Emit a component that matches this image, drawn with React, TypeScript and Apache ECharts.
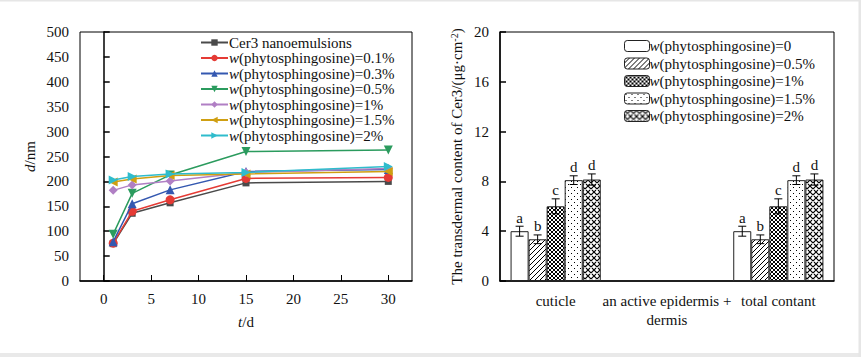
import React, { useEffect, useRef } from 'react';
import * as echarts from 'echarts';

// ---------- Left chart data ----------
const days = [1, 3, 7, 15, 30];
const xTickValues = [0, 5, 10, 15, 20, 25, 30];
const lineNames = [
  'Cer3 nanoemulsions',
  'w(phytosphingosine)=0.1%',
  'w(phytosphingosine)=0.3%',
  'w(phytosphingosine)=0.5%',
  'w(phytosphingosine)=1%',
  'w(phytosphingosine)=1.5%',
  'w(phytosphingosine)=2%',
];
const cer3 = [75, 136, 157, 197, 200];
const w01 = [76, 140, 163, 206, 208];
const w03 = [79, 155, 183, 220, 224];
const w05 = [94, 176, 213, 260, 263];
const w1 = [182, 193, 201, 218, 226];
const w15 = [199, 205, 212, 215, 220];
const w2 = [203, 210, 215, 218, 230];
const lineValues = [cer3, w01, w03, w05, w1, w15, w2];

// ---------- Right chart data ----------
const barCategories = ['cuticle', 'an active epidermis +\ndermis', 'total contant'];
const barNames = [
  'w(phytosphingosine)=0',
  'w(phytosphingosine)=0.5%',
  'w(phytosphingosine)=1%',
  'w(phytosphingosine)=1.5%',
  'w(phytosphingosine)=2%',
];
const bar0 = [4.0, null, 4.0];
const bar05 = [3.35, null, 3.35];
const bar1 = [6.0, null, 6.0];
const bar15 = [8.1, null, 8.1];
const bar2 = [8.15, null, 8.15];
const barValues = [bar0, bar05, bar1, bar15, bar2];
const barErrors = [0.4, 0.35, 0.6, 0.35, 0.45];
const barLetters = ['a', 'b', 'c', 'd', 'd'];

const FONT = 'Liberation Serif';
const TXT = '#111';
const ZW = '\u200b';

const lineColors = ['#4a4a4a', '#e53b35', '#3458b0', '#2b9b5e', '#b07fc4', '#cf9f12', '#2fbccc'];
const lineSymbols = [
  'rect',
  'circle',
  'triangle',
  'path://M0,0L10,0L5,9Z',
  'diamond',
  'path://M10,0L10,10L0,5Z',
  'path://M0,0L0,10L10,5Z',
];
const lineSymbolSizes = [7, 9, 9, 9, 9, 9, 9];

function makePattern(kind: string): HTMLCanvasElement {
  const c = document.createElement('canvas');
  const s = kind === 'zig' ? 6 : kind === 'cross' ? 4 : kind === 'dots' ? 6 : 5;
  c.width = s;
  c.height = s;
  const g = c.getContext('2d')!;
  g.fillStyle = '#fff';
  g.fillRect(0, 0, s, s);
  g.strokeStyle = '#000';
  g.fillStyle = '#000';
  g.lineWidth = 1;
  const seg = (x1: number, y1: number, x2: number, y2: number) => {
    g.beginPath();
    g.moveTo(x1, y1);
    g.lineTo(x2, y2);
    g.stroke();
  };
  if (kind === 'hatch') {
    seg(-1, s + 1, s + 1, -1);
    seg(-1, 1, 1, -1);
    seg(s - 1, s + 1, s + 1, s - 1);
  } else if (kind === 'cross') {
    seg(-1, s + 1, s + 1, -1);
    seg(-1, -1, s + 1, s + 1);
    seg(-1, 1, 1, -1);
    seg(s - 1, s + 1, s + 1, s - 1);
    seg(-1, s - 1, 1, s + 1);
    seg(s - 1, -1, s + 1, 1);
  } else if (kind === 'dots') {
    g.fillRect(1, 1, 1, 1);
    g.fillRect(4, 4, 1, 1);
  } else if (kind === 'zig') {
    g.lineWidth = 1.1;
    // zigzag: short diagonals alternating direction
    seg(0, 0, 3, 3);
    seg(3, 3, 6, 0);
    seg(0, 6, 2, 4);
    seg(4, 4, 6, 6);
  }
  return c;
}

const legendFormatter = (raw: string) => {
  const name = raw.split(ZW).join('');
  return name.startsWith('w(') ? '{i|w}{n|' + name.slice(1) + '}' : '{n|' + name + '}';
};

export default function App() {
  const ref = useRef<HTMLDivElement>(null);
  useEffect(() => {
    if (!ref.current) return;
    const chart = echarts.init(ref.current, undefined, { renderer: 'svg' });

    const patterns = ['white', 'hatch', 'cross', 'dots', 'zig'].map((k) =>
      k === 'white' ? '#ffffff' : { image: makePattern(k), repeat: 'repeat' }
    );

    const CAT_GAP = 0.19;
    const barSeriesNames = barNames.map((n) => n + ZW);

    const lineSeries = lineNames.map((name, i) => ({
      type: 'line',
      name,
      xAxisIndex: 0,
      yAxisIndex: 0,
      data: days.map((d, j) => [d, lineValues[i][j]]),
      symbol: lineSymbols[i],
      symbolSize: lineSymbolSizes[i],
      itemStyle: { color: lineColors[i] },
      lineStyle: { color: lineColors[i], width: 1.5 },
      z: 2 + i,
    }));

    const barSeries = barSeriesNames.map((name, i) => ({
      type: 'bar',
      name,
      xAxisIndex: 1,
      yAxisIndex: 1,
      data: barValues[i],
      barGap: '0%',
      barCategoryGap: CAT_GAP * 100 + '%',
      itemStyle: { color: patterns[i], borderColor: '#222', borderWidth: 1 },
    }));

    const errData: number[][] = [];
    barValues.forEach((vals, si) => {
      vals.forEach((v, ci) => {
        if (v != null) errData.push([ci, v as number, barErrors[si], si]);
      });
    });

    const errSeries = {
      type: 'custom',
      xAxisIndex: 1,
      yAxisIndex: 1,
      data: errData,
      z: 10,
      silent: true,
      renderItem: (params: any, api: any) => {
        const cat = api.value(0);
        const val = api.value(1);
        const err = api.value(2);
        const si = api.value(3);
        const c = api.coord([cat, val]);
        const band = api.size([1, 0])[0];
        const groupW = band * (1 - CAT_GAP);
        const bw = groupW / 5;
        const x = c[0] - groupW / 2 + bw * (si + 0.5);
        const top = api.coord([cat, val + err])[1];
        const bot = api.coord([cat, val - err])[1];
        const cap = 4;
        const st = { stroke: '#000', lineWidth: 1 };
        return {
          type: 'group',
          children: [
            { type: 'line', shape: { x1: x, y1: top, x2: x, y2: bot }, style: st },
            { type: 'line', shape: { x1: x - cap, y1: top, x2: x + cap, y2: top }, style: st },
            { type: 'line', shape: { x1: x - cap, y1: bot, x2: x + cap, y2: bot }, style: st },
            {
              type: 'text',
              x,
              y: top - 1,
              style: {
                text: barLetters[si],
                fontFamily: FONT,
                fontSize: 15,
                fill: TXT,
                align: 'center',
                verticalAlign: 'bottom',
              },
            },
          ],
        };
      },
    };

    const axisText = { fontFamily: FONT, fontSize: 15, color: TXT };
    const legendRich = (lh: number) => ({
      i: { fontFamily: FONT, fontSize: 15, fontStyle: 'italic', color: TXT, lineHeight: lh },
      n: { fontFamily: FONT, fontSize: 15, color: TXT, lineHeight: lh },
    });

    chart.setOption({
      animation: false,
      backgroundColor: '#ffffff',
      textStyle: { fontFamily: FONT },
      graphic: [
        { type: 'rect', shape: { x: 0, y: 353, width: 861, height: 4 }, style: { fill: '#e9e9e9' }, silent: true },
        { type: 'rect', shape: { x: 0, y: 0, width: 861, height: 1.5 }, style: { fill: '#e6e6e6' }, silent: true },
        { type: 'rect', shape: { x: 858.5, y: 0, width: 2.5, height: 357 }, style: { fill: '#e6e6e6' }, silent: true },
      ],
      grid: [
        { left: 80, right: 861 - 412, top: 32, bottom: 357 - 281, show: true, borderColor: '#000', borderWidth: 1 },
        { left: 500, right: 861 - 834, top: 32, bottom: 357 - 281, show: true, borderColor: '#000', borderWidth: 1 },
      ],
      legend: [
        {
          data: lineNames,
          left: 195,
          top: 30,
          orient: 'vertical',
          itemWidth: 27,
          itemHeight: 8,
          itemGap: 0.5,
          formatter: legendFormatter,
          textStyle: {
            fontFamily: FONT,
            fontSize: 15,
            lineHeight: 15,
            color: TXT,
            padding: [0, 0, 0, -4],
            rich: legendRich(15),
          },
          selectedMode: false,
        },
        {
          data: barSeriesNames,
          left: 619,
          top: 33,
          orient: 'vertical',
          itemWidth: 25,
          itemHeight: 11,
          itemGap: 1.5,
          formatter: legendFormatter,
          itemStyle: { borderColor: '#222', borderWidth: 1 },
          textStyle: {
            fontFamily: FONT,
            fontSize: 15,
            lineHeight: 16,
            color: TXT,
            padding: [0, 0, 0, -5],
            rich: legendRich(16),
          },
          selectedMode: false,
        },
      ],
      xAxis: [
        {
          type: 'value',
          gridIndex: 0,
          min: -2.5,
          max: 32.5,
          name: '{i|t}{n|/d}',
          nameLocation: 'middle',
          nameGap: 33,
          nameTextStyle: {
            ...axisText,
            rich: { i: { ...axisText, fontStyle: 'italic' }, n: { ...axisText } },
          },
          axisLine: { show: true, lineStyle: { color: '#000', width: 1.5 } },
          axisTick: { show: true, inside: true, length: 6, customValues: xTickValues, lineStyle: { color: '#000' } },
          axisLabel: { ...axisText, margin: 10, customValues: xTickValues },
          splitLine: { show: false },
        },
        {
          type: 'category',
          gridIndex: 1,
          data: barCategories,
          axisLine: { show: true, lineStyle: { color: '#000', width: 1.5 } },
          axisTick: { show: false },
          axisLabel: { ...axisText, margin: 10, lineHeight: 19, interval: 0 },
          splitLine: { show: false },
        },
      ],
      yAxis: [
        {
          type: 'value',
          gridIndex: 0,
          min: 0,
          max: 500,
          interval: 50,
          name: '{i|d}{n|/nm}',
          nameLocation: 'middle',
          nameGap: 43,
          nameRotate: 90,
          nameTextStyle: {
            ...axisText,
            rich: { i: { ...axisText, fontStyle: 'italic' }, n: { ...axisText } },
          },
          axisLine: { show: true, lineStyle: { color: '#000', width: 1.5 } },
          axisTick: { show: true, inside: true, length: 6, lineStyle: { color: '#000', width: 1.5 } },
          axisLabel: { ...axisText, margin: 11 },
          splitLine: { show: false },
        },
        {
          type: 'value',
          gridIndex: 1,
          min: 0,
          max: 20,
          interval: 4,
          name: '{n|The transdermal content of Cer3/(μg·cm}{sup|-2}{n|)}',
          nameLocation: 'middle',
          nameGap: 36,
          nameRotate: 90,
          nameTextStyle: {
            ...axisText,
            rich: {
              n: { ...axisText },
              sup: { fontFamily: FONT, fontSize: 10, color: TXT, verticalAlign: 'top' },
            },
          },
          axisLine: { show: true, lineStyle: { color: '#000', width: 1.5 } },
          axisTick: { show: true, inside: true, length: 6, lineStyle: { color: '#000', width: 1.5 } },
          axisLabel: { ...axisText, margin: 11 },
          splitLine: { show: false },
        },
      ],
      series: [...lineSeries, ...barSeries, errSeries],
    });

    return () => chart.dispose();
  }, []);

  return (
    <div
      ref={ref}
      style={{ position: 'fixed', left: 0, top: 0, width: 861, height: 357 }}
    />
  );
}
